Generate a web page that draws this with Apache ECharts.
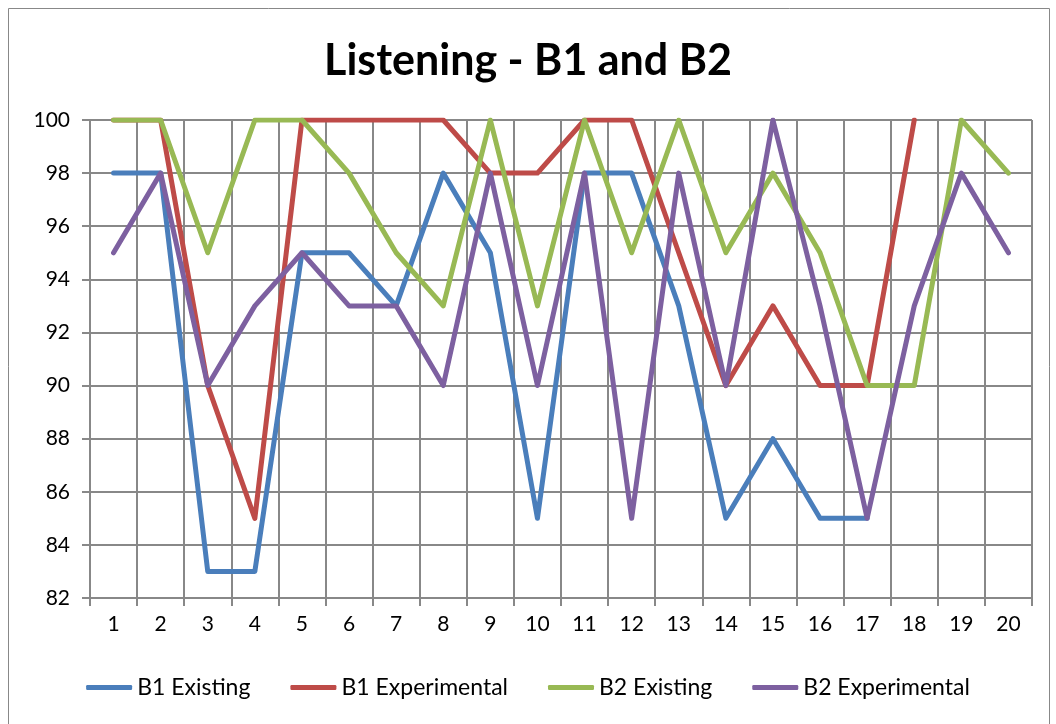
<!DOCTYPE html>
<html><head><meta charset="utf-8">
<script src="https://cdn.jsdelivr.net/npm/echarts@6/dist/echarts.min.js"></script>
<style>html,body{margin:0;padding:0;background:#fff}#c{width:1056px;height:724px}</style>
</head><body><div id="c"></div>
<script>
const categories = ['1','2','3','4','5','6','7','8','9','10','11','12','13','14','15','16','17','18','19','20'];
const b1Existing = [98,98,83,83,95,95,93,98,95,85,98,98,93,85,88,85,85,null,null,null];
const b1Experimental = [100,100,90,85,100,100,100,100,98,98,100,100,95,90,93,90,90,100,null,null];
const b2Existing = [100,100,95,100,100,98,95,93,100,93,100,95,100,95,98,95,90,90,100,98];
const b2Experimental = [95,98,90,93,95,93,93,90,98,90,98,85,98,90,100,93,85,93,98,95];
const seriesNames = ['B1 Existing','B1 Experimental','B2 Existing','B2 Experimental'];
const colors = ['#4A7EBB','#BE4B48','#98B954','#7D60A0'];
const FONT = 'Lato, "Open Sans", sans-serif';

const chart = echarts.init(document.getElementById('c'));
const dataSets = [b1Existing, b1Experimental, b2Existing, b2Experimental];
chart.setOption({
  animation: false,
  color: colors,
  graphic: [{type:'rect', shape:{x:8.5,y:8.5,width:1041,height:730}, style:{fill:'none',stroke:'#888',lineWidth:1}}],
  title: {text:'Listening - B1 and B2', left:'center', top:35, textStyle:{fontFamily:FONT,fontWeight:'bold',fontSize:43,color:'#000'}},
  grid: {left:90, right:24, top:120, bottom:126},
  xAxis: {
    type:'category', data:categories, boundaryGap:true,
    axisLine:{lineStyle:{color:'#888',width:2}},
    axisTick:{show:true,length:8,lineStyle:{color:'#888',width:2}},
    axisLabel:{fontFamily:FONT,fontSize:21,color:'#000',margin:16},
    splitLine:{show:true,lineStyle:{color:'#888',width:2}}
  },
  yAxis: {
    type:'value', min:82, max:100, interval:2,
    axisLine:{show:true,lineStyle:{color:'#888',width:2}},
    axisTick:{show:true,length:8,lineStyle:{color:'#888',width:2}},
    axisLabel:{fontFamily:FONT,fontSize:21,color:'#000',margin:20},
    splitLine:{show:true,lineStyle:{color:'#888',width:2}}
  },
  legend: {
    bottom:20, left:'center', itemWidth:46, itemHeight:5, itemGap:40,
    icon:'roundRect',
    textStyle:{fontFamily:FONT,fontSize:23,color:'#000'},
    data: seriesNames
  },
  series: dataSets.map((d,i)=>({
    name:seriesNames[i], type:'line', data:d, showSymbol:false, symbol:'none',
    lineStyle:{width:5, cap:'round', join:'round'}, connectNulls:false
  }))
});
</script></body></html>
